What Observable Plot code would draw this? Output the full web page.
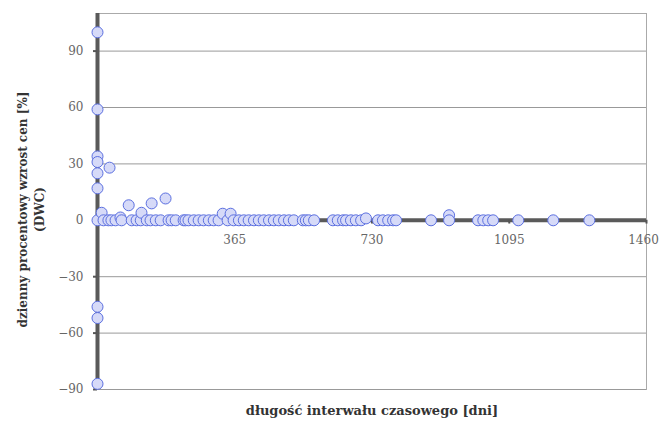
<!DOCTYPE html>
<html><head><meta charset="utf-8">
<script src="https://cdn.jsdelivr.net/npm/d3@7"></script>
<script src="https://cdn.jsdelivr.net/npm/@observablehq/plot@0.6"></script>
<style>body{margin:0;background:#fff}</style>
</head><body><div id="chart"></div>
<script>
const days = [0,0,0,0,0,0,0,0,0,32,
  0,11,16,29,37,48,61,64,83,91,104,115,117,131,141,144,155,168,181,189,197,208,
  229,234,242,256,269,282,296,309,322,333,346,354,362,376,389,402,416,429,442,456,469,482,496,509,522,
  546,554,562,576,626,639,653,661,674,687,701,714,746,759,773,786,794,887,935,935,1012,1026,1039,1052,1119,1212,1308];
const dwc = [100,59,34,31,25,17,-46,-52,-87,28,
  0,4,0,0,0,0,1.5,0,8,0,0,0,4,0,0,9,0,0,11.6,0,0,0,
  0,0,0,0,0,0,0,0,0,3.5,0,3.5,0,0,0,0,0,0,0,0,0,0,0,0,0,
  0,0,0,0,0,0,0,0,0,0,0,1,0,0,0,0,0,0,2.7,0,0,0,0,0,0,0,0];
const yTicks = [-90,-60,-30,0,30,60,90];
const gridY = [-90,-60,-30,30,60,90];
const xTicks = [365,730,1095,1460];
const yTitle = "dzienny procentowy wzrost cen [%]\n(DWC)";
const xTitle = "długość interwału czasowego [dni]";

const pts = days.map((d,i)=>({d, v: dwc[i]}));
const font = "DejaVu Serif";

const chart = Plot.plot({
  width: 660, height: 422,
  marginLeft: 97, marginRight: 14, marginTop: 13, marginBottom: 33,
  style: {fontFamily: font, fontSize: "12px", color: "#555", background: "#fff"},
  x: {domain: [0,1460], axis: null},
  y: {domain: [-90,110], axis: null},
  marks: [
    Plot.frame({stroke: "#aaa", strokeWidth: 1}),
    Plot.ruleY(gridY, {stroke: "#999", strokeWidth: 1}),
    Plot.ruleY([0], {stroke: "#5a5a5a", strokeWidth: 4}),
    Plot.ruleX([0], {stroke: "#5a5a5a", strokeWidth: 4}),
    Plot.axisY(yTicks, {tickSize: 4, tickPadding: 10, stroke: "#555", fill: "#666", fontSize: 12, label: null, strokeWidth: 2}),
    Plot.ruleX(xTicks, {x: d=>d, y1: 0, y2: -2, stroke: "#555", strokeWidth: 2}),
    Plot.text(xTicks.slice(0, -1), {x: d=>d, y: 0, dy: 20, text: d=>String(d), fill: "#666", fontSize: 12}),
    Plot.text(xTicks.slice(-1), {x: d=>d, y: 0, dy: 20, dx: -3, text: d=>String(d), fill: "#666", fontSize: 12}),
    Plot.dot(pts, {x: "d", y: "v", r: 5.5, fill: "#d6daf8", stroke: "#5b6fe0", strokeWidth: 1}),
    Plot.text([yTitle], {frameAnchor: "left", textAnchor: "middle", dx: -67, dy: 8, rotate: -90, fontWeight: "bold", fontSize: 12, fill: "#333", lineHeight: 1.4}),
    Plot.text([xTitle], {frameAnchor: "bottom", dy: 25, fontWeight: "bold", fontSize: 13, fill: "#333"})
  ]
});
document.getElementById("chart").appendChild(chart);
</script>
</body></html>
